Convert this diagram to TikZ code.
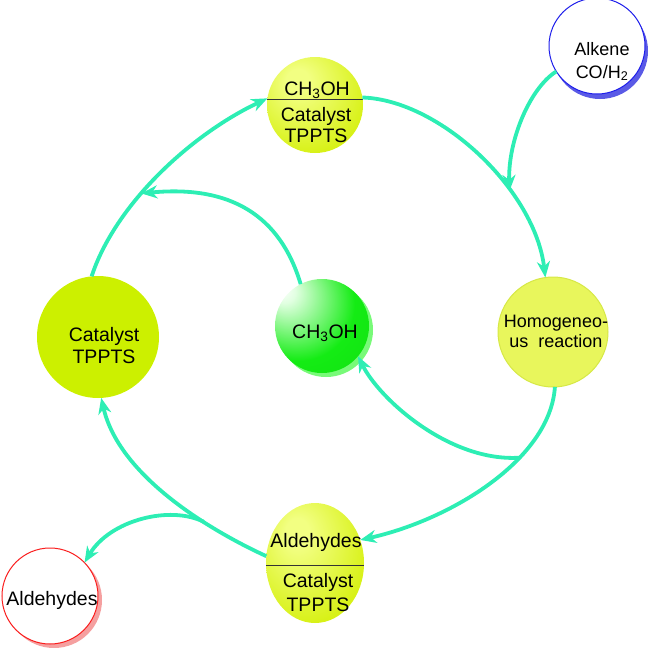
\documentclass[tikz,border=0pt]{standalone}
\usepackage{fontspec}
\setmainfont{Liberation Sans}
\usetikzlibrary{arrows.meta,shapes.geometric}
\definecolor{conn}{RGB}{45,238,180}
\definecolor{yhl}{RGB}{242,255,130}
\definecolor{ybase}{RGB}{214,240,16}
\definecolor{yedge}{RGB}{198,228,0}
\definecolor{ghl}{RGB}{225,255,225}
\definecolor{gbase}{RGB}{20,236,20}
\definecolor{gedge}{RGB}{12,210,12}
\definecolor{gshadow}{RGB}{120,250,120}
\definecolor{catfill}{RGB}{204,240,0}
\definecolor{homfill}{RGB}{232,246,92}
\definecolor{homdraw}{RGB}{214,232,70}
\definecolor{bluedraw}{RGB}{30,30,235}
\definecolor{blueshadow}{RGB}{90,90,230}
\definecolor{reddraw}{RGB}{250,30,30}
\definecolor{redshadow}{RGB}{245,160,160}
\pgfdeclareradialshading{yball}{\pgfpoint{-10bp}{14bp}}{color(0bp)=(yhl);color(6bp)=(yhl);color(34bp)=(ybase);color(64bp)=(yedge)}
\pgfdeclareradialshading{gball}{\pgfpoint{-22bp}{20bp}}{color(0bp)=(white);color(6bp)=(ghl);color(30bp)=(gbase);color(70bp)=(gedge)}
\begin{document}
\begin{tikzpicture}[x=1pt,y=-1pt,
  ball/.style={circle,inner sep=0pt,outer sep=0pt},
  lbl/.style={inner sep=0pt,anchor=base,font=\fontsize{19.5}{22}\selectfont},
  lbls/.style={inner sep=0pt,anchor=base,font=\fontsize{18}{21}\selectfont},
  link/.style={draw=conn,line width=3.8pt,-{Stealth[length=16pt,width=13pt,inset=5pt]}},
  divider/.style={draw=black!80,line width=0.9pt}]
\useasboundingbox (0,0) rectangle (651,651);

% shadows
\node[ball,fill=blueshadow,minimum size=96pt] (alkS) at (600,51) {};
\node[ball,fill=redshadow,minimum size=96pt] (redS) at (54,600) {};
\node[ball,fill=gshadow,minimum size=94pt] (cmS) at (326,330) {};

% circles
\node[ball,fill=white,draw=bluedraw,line width=1pt,minimum size=96pt] (alk) at (597,46) {};
\node[ball,fill=white,draw=reddraw,line width=1pt,minimum size=96pt] (red) at (50,596) {};
\node[ball,shading=gball,minimum size=94pt] (cm) at (322,326) {};
\node[ball,shading=yball,minimum size=96pt] (top) at (315,105) {};
\node[ellipse,inner sep=0pt,outer sep=0pt,shading=yball,minimum width=98pt,minimum height=120pt] (bot) at (315,563) {};
\node[ball,fill=catfill,minimum size=122pt] (lc) at (98,337) {};
\node[ball,fill=homfill,draw=homdraw,line width=1pt,minimum size=110pt] (hom) at (553,332) {};

\draw[divider] (top.173) -- (top.7);
\draw[divider] (bot.183) -- (bot.-3);

% labels
\node[lbl] (t1) at (317,95) {CH\textsubscript{3}OH};
\node[lbl] (t2) at (316,121) {Catalyst};
\node[lbl] (t3) at (316,142) {TPPTS};
\node[lbl] (b1) at (316,547) {Aldehydes};
\node[lbl] (b2) at (318,587) {Catalyst};
\node[lbl] (b3) at (318,611) {TPPTS};
\node[lbl] (l1) at (104,341) {Catalyst};
\node[lbl] (l2) at (104,363) {TPPTS};
\node[lbls] (h1) at (556,327) {Homogeneo-};
\node[lbls] (h2) at (556,347) {us\ \ reaction};
\node[lbls] (a1) at (602,55) {Alkene};
\node[lbls] (a2) at (602,78) {CO/H\textsubscript{2}};
\node[lbl] (c1) at (325,338) {CH\textsubscript{3}OH};
\node[lbl] (r1) at (52,605) {Aldehydes};

% connectors
\draw[link] (lc.96) .. controls (115,205) and (190,135) .. (top.172) coordinate[pos=0.4] (j4);
\draw[link] (top.9) .. controls (440,100) and (535,190) .. (hom.98) coordinate[pos=0.66] (j1);
\draw[link] (alk.212) .. controls (530,88) and (508,140) .. (j1);
\draw[link] (hom.-88) .. controls (550,460) and (450,520) .. (bot.27) coordinate[pos=0.35] (j2);
\draw[link] (j2) .. controls (450,462) and (380,400) .. (cm.-40);
\draw[link] (bot.172) .. controls (220,535) and (120,480) .. (lc.-87) coordinate[pos=0.35] (j3);
\draw[link] (j3) .. controls (170,505) and (110,520) .. (red.44);
\draw[link] (cm.117) .. controls (280,215) and (230,185) .. (j4);
\end{tikzpicture}
\end{document}
